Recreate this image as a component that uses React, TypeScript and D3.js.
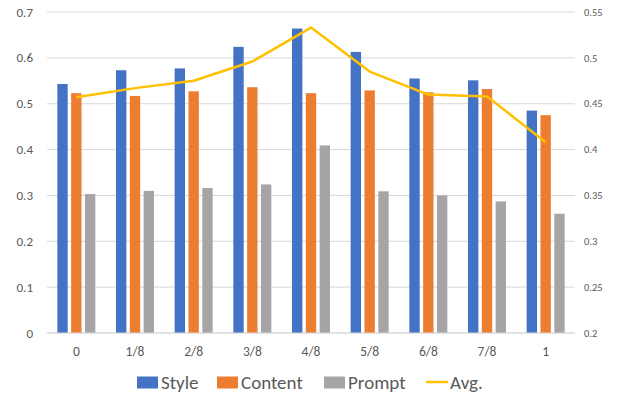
import React from "react";
import * as d3 from "d3";

const categories = ["0", "1/8", "2/8", "3/8", "4/8", "5/8", "6/8", "7/8", "1"];
const styleValues = [0.543, 0.573, 0.577, 0.624, 0.664, 0.613, 0.555, 0.551, 0.485];
const contentValues = [0.523, 0.517, 0.527, 0.536, 0.523, 0.529, 0.525, 0.532, 0.475];
const promptValues = [0.303, 0.31, 0.316, 0.324, 0.409, 0.309, 0.3, 0.287, 0.26];
const avgValues = [0.457, 0.467, 0.475, 0.496, 0.533, 0.485, 0.46, 0.458, 0.408];
const leftTicks = [0, 0.1, 0.2, 0.3, 0.4, 0.5, 0.6, 0.7];
const rightTicks = [0.2, 0.25, 0.3, 0.35, 0.4, 0.45, 0.5, 0.55];

const barSeries = [
  { name: "Style", values: styleValues, color: "#4472C4" },
  { name: "Content", values: contentValues, color: "#ED7D31" },
  { name: "Prompt", values: promptValues, color: "#A5A5A5" },
];

const App = () => {
  const width = 618;
  const height = 396;
  const left = 47;
  const right = 575;
  const top = 12;
  const bottom = 333;
  const font = "Carlito, Calibri, 'Open Sans', 'Noto Sans', sans-serif";

  const x = d3.scaleBand().domain(categories).range([left, right]);
  const inner = d3
    .scaleBand()
    .domain(barSeries.map((s) => s.name))
    .range([-19, 19])
    .paddingInner(0.25);
  const yL = d3.scaleLinear().domain([0, 0.7]).range([bottom, top]);
  const yR = d3.scaleLinear().domain([0.2, 0.55]).range([bottom, top]);

  const line = d3
    .line<number>()
    .x((_, i) => (x(categories[i]) || 0) + x.bandwidth() / 2)
    .y((d) => yR(d));

  // legend slots, laid out to match the Office-style legend row
  const legendItems = [
    { name: "Style", color: "#4472C4", kind: "rect", x: 137 },
    { name: "Content", color: "#ED7D31", kind: "rect", x: 217 },
    { name: "Prompt", color: "#A5A5A5", kind: "rect", x: 324 },
    { name: "Avg.", color: "#FFC000", kind: "line", x: 426 },
  ];

  return (
    <svg
      width={width}
      height={height}
      style={{ position: "absolute", left: 0, top: 0, background: "#fff" }}
      fontFamily={font}
    >
      {leftTicks.map((t) => (
        <line
          key={"g" + t}
          x1={left}
          x2={right}
          y1={yL(t)}
          y2={yL(t)}
          stroke="#d9d9d9"
          strokeWidth={1}
        />
      ))}
      {leftTicks.map((t) => (
        <text
          key={"l" + t}
          x={33}
          y={yL(t)}
          dy="0.35em"
          textAnchor="end"
          fontSize={13}
          fill="#595959"
        >
          {d3.format("~g")(t)}
        </text>
      ))}
      {rightTicks.map((t) => (
        <text
          key={"r" + t}
          x={584}
          y={yR(t)}
          dy="0.35em"
          fontSize={10.5}
          fill="#595959"
        >
          {d3.format("~g")(t)}
        </text>
      ))}
      {categories.map((c, i) =>
        barSeries.map((s) => (
          <rect
            key={c + s.name}
            x={(x(c) || 0) + x.bandwidth() / 2 + (inner(s.name) || 0)}
            y={yL(s.values[i])}
            width={inner.bandwidth()}
            height={bottom - yL(s.values[i])}
            fill={s.color}
          />
        ))
      )}
      <line x1={left} x2={right} y1={bottom} y2={bottom} stroke="#d9d9d9" />
      {categories.map((c) => (
        <text
          key={"x" + c}
          x={(x(c) || 0) + x.bandwidth() / 2}
          y={351}
          dy="0.35em"
          textAnchor="middle"
          fontSize={13.5}
          fill="#595959"
        >
          {c}
        </text>
      ))}
      <path
        d={line(avgValues) || ""}
        fill="none"
        stroke="#FFC000"
        strokeWidth={2.5}
        strokeLinejoin="round"
      />
      {legendItems.map((item) => (
        <g key={item.name}>
          {item.kind === "rect" ? (
            <rect x={item.x} y={376.5} width={21} height={12} fill={item.color} />
          ) : (
            <line
              x1={item.x}
              x2={item.x + 22}
              y1={382}
              y2={382}
              stroke={item.color}
              strokeWidth={2.5}
            />
          )}
          <text
            x={item.x + 24}
            y={382}
            dy="0.35em"
            fontSize={19}
            fill="#595959"
          >
            {item.name}
          </text>
        </g>
      ))}
    </svg>
  );
};

export default App;
